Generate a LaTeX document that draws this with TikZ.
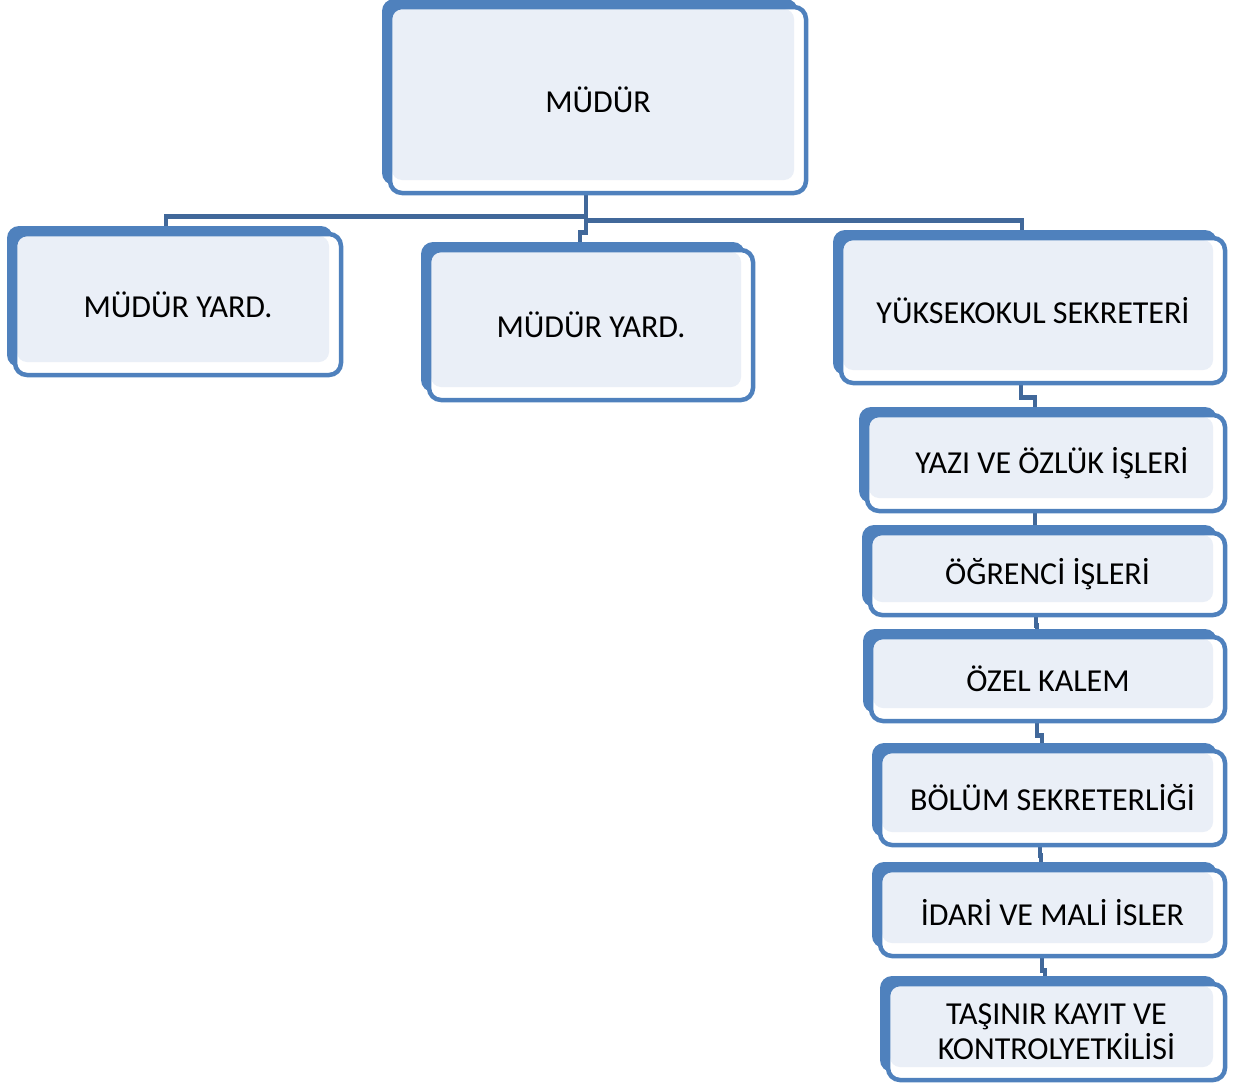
\documentclass[tikz,border=0pt]{standalone}
\usepackage{fontspec}
\setmainfont{Carlito}
\usetikzlibrary{shadows,backgrounds}
\definecolor{boxblue}{HTML}{4F81BD}
\definecolor{boxfill}{HTML}{EAEFF7}
\definecolor{linkblue}{HTML}{41689A}
\tikzset{unitbox/.style={rectangle,rounded corners=12pt,draw=boxblue,line width=4.5pt,fill=white,
    general shadow={fill=boxblue,shadow xshift=-8pt,shadow yshift=8pt},
    path picture={\fill[boxfill,rounded corners=10pt] ([shift={(2pt,-2pt)}]path picture bounding box.north west) rectangle ([shift={(-12pt,13pt)}]path picture bounding box.south east);},
    align=center,inner sep=0pt,font=\fontsize{32}{35}\selectfont},
  link/.style={draw=linkblue,line width=4.5pt}}
\begin{document}
\begin{tikzpicture}[x=1pt,y=-1pt]
    \useasboundingbox (0,0) rectangle (1245,1084);
    \node[unitbox,minimum width=416pt,minimum height=186pt] (mudur) at (598,100) {MÜDÜR};
    \node[unitbox,minimum width=326pt,minimum height=141pt] (yard1) at (178,304.5) {MÜDÜR YARD.};
    \node[unitbox,minimum width=324pt,minimum height=150pt] (yard2) at (591,325) {MÜDÜR YARD.};
    \node[unitbox,minimum width=384pt,minimum height=145pt] (ysek) at (1033,310.5) {YÜKSEKOKUL SEKRETERİ};
    \node[unitbox,minimum width=358pt,minimum height=96pt] (yazi) at (1046,463) {\hspace{12pt}YAZI VE ÖZLÜK İŞLERİ};
    \node[unitbox,minimum width=355pt,minimum height=82pt] (ogr) at (1047.5,574) {ÖĞRENCİ İŞLERİ};
    \node[unitbox,minimum width=354pt,minimum height=84pt] (ozel) at (1048,679) {ÖZEL KALEM};
    \node[unitbox,minimum width=345pt,minimum height=94pt] (bolum) at (1052.5,798) {BÖLÜM SEKRETERLİĞİ};
    \node[unitbox,minimum width=345pt,minimum height=86pt] (idari) at (1052.5,913) {İDARİ VE MALİ İSLER};
    \node[unitbox,minimum width=337pt,minimum height=96pt] (tasinir) at (1056.5,1032) {TAŞINIR KAYIT VE\\KONTROLYETKİLİSİ};

    \begin{scope}[on background layer]
    \draw[link] ([xshift=-12pt]mudur.south) -- ++(0,21) -| ([xshift=-12pt]yard1.north);
    \draw[link] ([xshift=-12pt]mudur.south) -- ++(0,25) -| ([xshift=-11pt]ysek.north);
    \draw[link] ([xshift=-12pt]mudur.south) -- ++(0,37) -| ([xshift=-11pt]yard2.north);
    \draw[link] ([xshift=-12pt]ysek.south) -- ++(0,12) -| ([xshift=-11pt]yazi.north);
    \draw[link] ([xshift=-11pt]yazi.south) -- ++(0,8) -| ([xshift=-12.5pt]ogr.north);
    \draw[link] ([xshift=-11.5pt]ogr.south) -- ++(0,8) -| ([xshift=-11pt]ozel.north);
    \draw[link] ([xshift=-11pt]ozel.south) -- ++(0,12) -| ([xshift=-10.5pt]bolum.north);
    \draw[link] ([xshift=-12.5pt]bolum.south) -- ++(0,8) -| ([xshift=-11.5pt]idari.north);
    \draw[link] ([xshift=-10.5pt]idari.south) -- ++(0,12) -| ([xshift=-11.5pt]tasinir.north);
    \end{scope}
\end{tikzpicture}
\end{document}
